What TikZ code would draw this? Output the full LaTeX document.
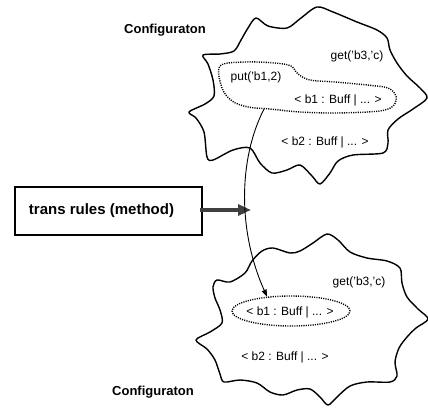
\documentclass[tikz,border=0pt]{standalone}
\usepackage{fontspec}
\setmainfont{Liberation Sans}
\usetikzlibrary{arrows.meta,shapes.geometric}

\begin{document}
\begin{tikzpicture}[x=1pt,y=-1pt,
  cloudline/.style={line width=1.4pt, line join=round},
  dotline/.style={line width=1.4pt, dash pattern=on 1.1pt off 1.2pt},
  lbl/.style={inner sep=0pt, font=\fontsize{12}{14}\selectfont},
  title/.style={inner sep=0pt, font=\fontsize{13}{15}\selectfont\bfseries},
  rulebox/.style={draw, line width=1.3pt, minimum width=187pt, minimum height=48pt,
    inner sep=0pt},
  boxtext/.style={inner sep=0pt, font=\fontsize{15}{17}\selectfont\bfseries},
  bigarrow/.style={line width=4.5pt, black!75, -{Triangle[length=13pt,width=11pt]}},
  thinarrow/.style={line width=0.9pt, -{Triangle[length=7pt,width=5pt]}}
]
\useasboundingbox (0,0) rectangle (428,407);

% upper configuration
\draw[cloudline] plot[smooth cycle, tension=0.5] coordinates {
  (189,112) (205,104) (214,96) (213,80) (208,64) (203,55) (220,54) (234,51)
  (241,40) (248,28) (256,18) (268,26) (287,28) (301,18) (317,7) (333,12)
  (357,22) (377,30) (387,38) (390,50) (397,63) (407,76) (420,88) (427,98)
  (413,109) (398,119) (388,130) (388,143) (383,153) (353,155) (338,161)
  (330,173) (320,184) (312,176) (300,165) (287,170) (272,173) (260,163)
  (250,148) (233,150) (213,160) (207,157) (204,132) (196,118)};

% dotted region holding put and b1
\draw[dotline] plot[smooth cycle, tension=0.55] coordinates {
  (220,66) (245,62) (275,63) (291,66) (298,74) (310,80) (335,82) (367,85)
  (388,88) (396,96) (394,105) (385,110) (367,112) (333,113) (300,112)
  (270,109) (248,107) (232,101) (222,88)};
\coordinate (putexit) at (264,109);

\node[title] (cfgtop) at (165,30) {Configuraton};
\node[lbl] (gettop) at (357,56) {get('b3,'c)};
\node[lbl] (put) at (256,77) {put('b1,2)};
\node[lbl] (b1top) at (338,100) {< b1 : Buff | ... >};
\node[lbl] (b2top) at (325,142) {< b2 : Buff | ... >};

% lower configuration
\draw[cloudline] plot[smooth cycle, tension=0.5] coordinates {
  (196,340) (210,332) (222,323) (220,310) (215,298) (213,287) (217,280)
  (230,282) (245,273) (252,261) (262,251) (273,248) (290,253) (300,251)
  (313,243) (327,234) (338,240) (350,252) (367,258) (387,261) (400,268)
  (402,283) (407,297) (418,309) (428,319) (416,328) (407,337) (399,348)
  (395,362) (397,376) (390,382) (367,382) (350,386) (337,397) (328,405)
  (320,397) (310,389) (297,390) (283,395) (270,392) (257,383) (240,380)
  (224,382) (220,374) (215,360) (207,349)};

\node[ellipse, dotline, draw, minimum width=118pt, minimum height=30pt,
  inner sep=0pt] (b1ell) at (291,311) {};
\node[lbl] (b1low) at (290,312) {< b1 : Buff | ... >};
\node[lbl] (getlow) at (359,282) {get('b3,'c)};
\node[lbl] (b2low) at (285,357) {< b2 : Buff | ... >};
\node[title] (cfglow) at (153,392) {Configuraton};

% rule box and its arrow
\node[rulebox] (rules) at (108.5,211) {};
\node[boxtext] (rulestext) at (101.5,211) {trans rules (method)};
\coordinate (rulestip) at (251,210);
\draw[bigarrow] ([xshift=-3pt]rules.east |- rulestip) -- (rulestip);

% rewrite step from the put message to the updated buffer
\draw[thinarrow] (putexit) .. controls (238,160) and (238,232) .. (b1ell.149);

\end{tikzpicture}
\end{document}
